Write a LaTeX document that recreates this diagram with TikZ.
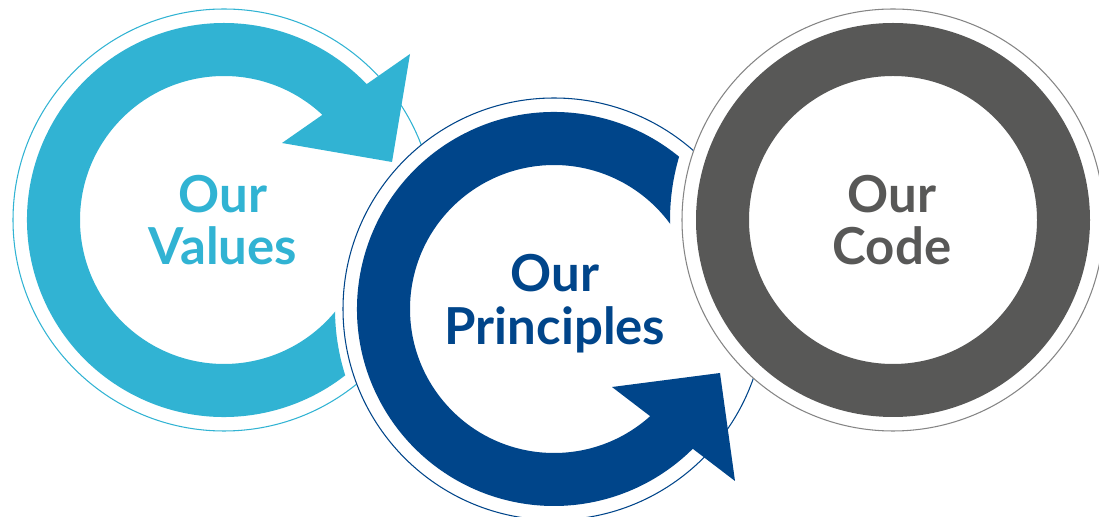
\documentclass[tikz,border=0pt]{standalone}
\definecolor{valblue}{HTML}{31B3D3}
\definecolor{prinblue}{HTML}{00458A}
\definecolor{codegray}{HTML}{585857}
\definecolor{rimgray}{HTML}{858585}
\usepackage{fontspec}
\setmainfont{Lato}
\usetikzlibrary{calc}

\begin{document}
\begin{tikzpicture}[x=0.02cm, y=0.02cm,
	rim/.style={line width=0.6pt},
	lbl/.style={align=center, font=\bfseries\fontsize{29}{30}\selectfont}]
	\useasboundingbox (0,0) rectangle (1099,517);
	\coordinate (vc) at (224,297);
	\coordinate (pc) at (554,208);
	\coordinate (cc) at (893,297);
	% values
	\draw[valblue, rim] (vc) circle (211);
	\begin{scope}[even odd rule]
	\clip (0,0) rectangle (1099,517) (pc) circle (219);
	\fill[valblue, shift={(vc)}] (330:197)
	arc[start angle=330, end angle=43.6, radius=197]
	-- (186,166) -- (168,58) -- (58,77) -- (46.9:144)
	arc[start angle=46.9, end angle=330, radius=144]
	-- cycle;
	\end{scope}
	% principles
	\filldraw[fill=white, draw=prinblue, rim] (pc) circle (211);
	\begin{scope}[even odd rule]
	\clip (0,0) rectangle (1099,517) (cc) circle (223);
	\fill[prinblue, shift={(pc)}] (30:197)
	arc[start angle=30, end angle=314.8, radius=197]
	-- (181,-172) -- (166,-64) -- (58,-78) -- (311.9:144)
	arc[start angle=311.9, end angle=30, radius=144]
	-- cycle;
	\end{scope}
	% code
	\filldraw[fill=white, draw=rimgray, rim] (cc) circle (211);
	\fill[codegray, even odd rule] (cc) circle (197) (cc) circle (144);
	%labels
	\node[lbl, text=valblue] (values) at (223,297) {Our\\Values};
	\node[lbl, text=prinblue] (principles) at (555,213) {Our\\Principles};
	\node[lbl, text=codegray] (code) at (892,297) {Our\\Code};
\end{tikzpicture}
\end{document}
